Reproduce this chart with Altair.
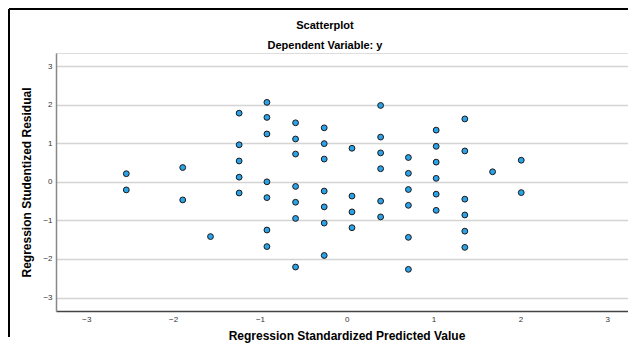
import altair as alt
import pandas as pd

# Regression standardized predicted value (x) and studentized residual (y)
predicted = [
    -2.54, -2.54,
    -1.89, -1.89,
    -1.57,
    -1.24, -1.24, -1.24, -1.24, -1.24,
    -0.92, -0.92, -0.92, -0.92, -0.92, -0.92, -0.92,
    -0.59, -0.59, -0.59, -0.59, -0.59, -0.59, -0.59,
    -0.26, -0.26, -0.26, -0.26, -0.26, -0.26, -0.26,
    0.06, 0.06, 0.06, 0.06,
    0.39, 0.39, 0.39, 0.39, 0.39, 0.39,
    0.71, 0.71, 0.71, 0.71, 0.71, 0.71,
    1.03, 1.03, 1.03, 1.03, 1.03, 1.03,
    1.36, 1.36, 1.36, 1.36, 1.36, 1.36,
    1.68,
    2.01, 2.01,
]
residual = [
    0.21, -0.21,
    0.37, -0.47,
    -1.42,
    1.78, 0.96, 0.54, 0.12, -0.29,
    2.06, 1.67, 1.24, 0.00, -0.41, -1.25, -1.68,
    1.53, 1.11, 0.72, -0.12, -0.53, -0.95, -2.21,
    1.40, 0.99, 0.59, -0.24, -0.65, -1.07, -1.91,
    0.87, -0.37, -0.78, -1.19,
    1.98, 1.16, 0.75, 0.34, -0.50, -0.91,
    0.63, 0.22, -0.20, -0.61, -1.44, -2.27,
    1.34, 0.92, 0.51, 0.09, -0.32, -0.74,
    1.63, 0.80, -0.45, -0.86, -1.28, -1.70,
    0.26,
    0.56, -0.28,
]

x_ticks = [-3, -2, -1, 0, 1, 2, 3]
y_ticks = [-3, -2, -1, 0, 1, 2, 3]

title_text = "Scatterplot"
subtitle_text = "Dependent Variable: y"
x_title = "Regression Standardized Predicted Value"
y_title = "Regression Studentized Residual"

df = pd.DataFrame({"predicted": predicted, "residual": residual})

FONT = "Liberation Sans"

points = alt.Chart(df).mark_circle(
    size=34, color="#2ca2e8", opacity=1, stroke="#1a1a1a", strokeWidth=1
).encode(
    x=alt.X(
        "predicted:Q",
        scale=alt.Scale(domain=[-3.35, 3.24], nice=False, zero=False),
        axis=alt.Axis(
            values=x_ticks, format="d", title=x_title, grid=False, ticks=False,
            domainColor="#444444", domainWidth=1.5,
            labelFont=FONT, labelFontSize=8, labelColor="#333333", labelPadding=4,
            titleFont=FONT, titleFontSize=12, titleFontWeight="bold", titleColor="#000000",
            titlePadding=7, titleX=290.5,
        ),
    ),
    y=alt.Y(
        "residual:Q",
        scale=alt.Scale(domain=[-3.35, 3.34], nice=False, zero=False),
        axis=alt.Axis(
            values=y_ticks, format="d", title=y_title, grid=True, gridColor="#d4d4d4",
            gridWidth=1.5, ticks=False, domainColor="#888888", domainWidth=1.5,
            labelFont=FONT, labelFontSize=8, labelColor="#333333", labelPadding=4,
            titleFont=FONT, titleFontSize=12, titleFontWeight="bold", titleColor="#000000",
            titlePadding=9,
        ),
    ),
)

frame_df = pd.DataFrame({"k": [0]})
frame_left = alt.Chart(frame_df).mark_rule(color="#000000", strokeWidth=2).encode(
    x=alt.value(-47), y=alt.value(-44), y2=alt.value(284)
)
frame_top = alt.Chart(frame_df).mark_rule(color="#000000", strokeWidth=2).encode(
    x=alt.value(-47), x2=alt.value(572), y=alt.value(-44)
)

chart = alt.layer(points, frame_left, frame_top).properties(
    width=572,
    height=258,
    autosize=alt.AutoSizeParams(type="none"),
    padding={"left": 48, "top": 45, "right": 0, "bottom": 32},
    title=alt.TitleParams(
        text=title_text, subtitle=subtitle_text, font=FONT, fontSize=11,
        fontWeight="bold", color="#000000", subtitleFont=FONT, subtitleFontSize=11,
        subtitleFontWeight="bold", subtitleColor="#000000", anchor="middle",
        frame="group", dx=-17, dy=43, offset=0, subtitlePadding=9,
    ),
).configure_view(strokeWidth=0).configure(background="#ffffff")

chart.save("out.html", embed_options={"renderer": "svg", "actions": False})
